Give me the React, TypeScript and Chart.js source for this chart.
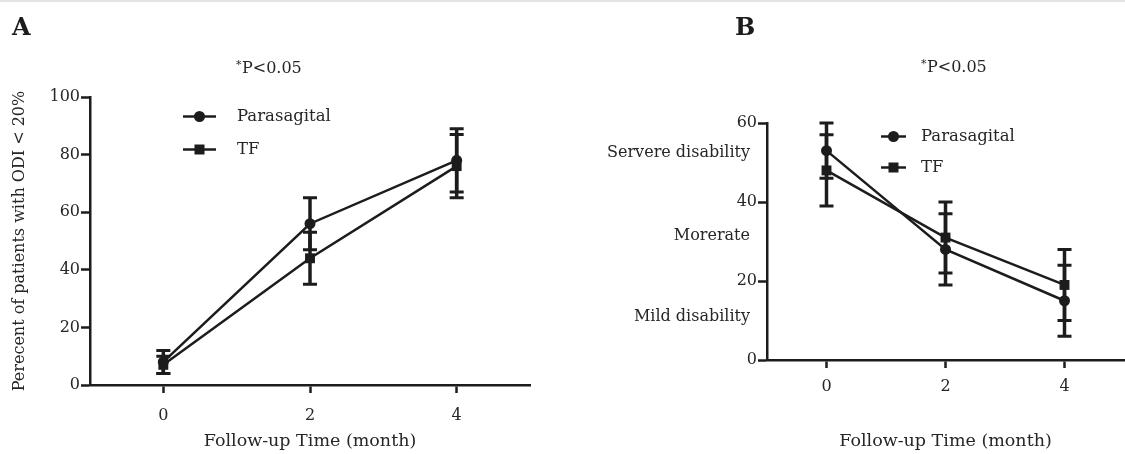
import React, { useEffect, useRef } from "react";
import { Chart, registerables } from "chart.js";

Chart.register(...registerables);

// ---------- data ----------
const months = [0, 2, 4];
const xTickValues = [0, 2, 4];
const seriesNames = ["Parasagital", "TF"];
const xTitle = "Follow-up Time (month)";
const pValueText = "P<0.05";

// Panel A
const aParasagital = [8, 56, 78];
const aParasagitalSD = [4, 9, 11];
const aTF = [7, 44, 76];
const aTFSD = [3, 9, 11];
const aYTitle = "Perecent of patients with ODI < 20%";

// Panel B
const bParasagital = [53, 28, 15];
const bParasagitalSD = [7, 9, 9];
const bTF = [48, 31, 19];
const bTFSD = [9, 9, 9];
const bLevelLabels = ["Servere disability", "Morerate", "Mild disability"];
const bLevelValues = [52.5, 31.5, 11];

// ---------- style ----------
const FONT = "'DejaVu Serif', 'Liberation Serif', serif";
const INK = "#1c1c1c";
const TEXT = "#262626";

const errorBarPlugin = {
  id: "errorBars",
  afterDatasetsDraw(chart: any) {
    const { ctx } = chart;
    const x = chart.scales.x;
    const y = chart.scales.y;
    ctx.save();
    ctx.strokeStyle = INK;
    chart.data.datasets.forEach((ds: any) => {
      const errs: number[] = ds.errors || [];
      ds.data.forEach((p: any, i: number) => {
        const e = errs[i];
        if (e == null) return;
        const px = x.getPixelForValue(p.x);
        const top = y.getPixelForValue(p.y + e);
        const bot = y.getPixelForValue(p.y - e);
        ctx.lineWidth = 3.5;
        ctx.beginPath();
        ctx.moveTo(px, top);
        ctx.lineTo(px, bot);
        ctx.stroke();
        ctx.lineWidth = 3;
        ctx.beginPath();
        ctx.moveTo(px - 7, top);
        ctx.lineTo(px + 7, top);
        ctx.moveTo(px - 7, bot);
        ctx.lineTo(px + 7, bot);
        ctx.stroke();
      });
    });
    ctx.restore();
  },
};

const decorPlugin = {
  id: "panelDecor",
  afterDraw(chart: any, _args: any, o: any) {
    const ctx = chart.ctx;
    ctx.save();
    ctx.fillStyle = INK;
    ctx.strokeStyle = INK;
    // panel letter
    ctx.font = `bold 24px ${FONT}`;
    ctx.textAlign = "left";
    ctx.textBaseline = "alphabetic";
    ctx.fillText(o.letter, o.letterX, o.letterY);
    // p-value note
    ctx.fillStyle = TEXT;
    ctx.textBaseline = "middle";
    ctx.font = `11px ${FONT}`;
    ctx.fillText("*", o.pX, o.pY - 4);
    ctx.font = `16px ${FONT}`;
    ctx.fillText(pValueText, o.pX + 6, o.pY);
    // legend
    chart.data.datasets.forEach((ds: any, i: number) => {
      const ry = o.legendY[i];
      ctx.fillStyle = INK;
      ctx.lineWidth = 2.5;
      ctx.beginPath();
      ctx.moveTo(o.legendX0, ry);
      ctx.lineTo(o.legendX1, ry);
      ctx.stroke();
      const cx = (o.legendX0 + o.legendX1) / 2;
      ctx.beginPath();
      if (ds.pointStyle === "rect") {
        ctx.rect(cx - 5, ry - 5, 10, 10);
      } else {
        ctx.arc(cx, ry, 5.5, 0, Math.PI * 2);
      }
      ctx.fill();
      ctx.fillStyle = TEXT;
      ctx.font = `16.5px ${FONT}`;
      ctx.textAlign = "left";
      ctx.fillText(ds.label, o.legendTextX, ry);
    });
    // severity labels
    if (o.levels) {
      const y = chart.scales.y;
      ctx.fillStyle = TEXT;
      ctx.textAlign = "right";
      ctx.font = `16px ${FONT}`;
      o.levels.forEach((t: string, i: number) => {
        ctx.fillText(t, o.levelX, y.getPixelForValue(o.levelValues[i]));
      });
    }
    ctx.restore();
  },
};

function makeDataset(label: string, vals: number[], sds: number[], style: string) {
  return {
    label,
    data: months.map((m, i) => ({ x: m, y: vals[i] })),
    errors: sds,
    borderColor: INK,
    backgroundColor: INK,
    borderWidth: 2.5,
    pointStyle: style,
    pointRadius: style === "rect" ? 7 : 5.5,
    pointBorderWidth: 0,
    tension: 0,
    clip: false as any,
  };
}

function makeConfig(p: any): any {
  return {
    type: "line",
    data: {
      datasets: [
        makeDataset(seriesNames[0], p.para, p.paraSD, "circle"),
        makeDataset(seriesNames[1], p.tf, p.tfSD, "rect"),
      ],
    },
    plugins: [errorBarPlugin, decorPlugin],
    options: {
      animation: false,
      responsive: false,
      events: [],
      layout: { padding: p.padding },
      font: { family: FONT },
      scales: {
        x: {
          type: "linear",
          min: -1,
          max: 5,
          afterBuildTicks: (s: any) => {
            s.ticks = xTickValues.map((v) => ({ value: v }));
          },
          afterFit: (s: any) => {
            s.height = p.xHeight;
          },
          grid: {
            display: true,
            drawOnChartArea: false,
            drawTicks: true,
            tickLength: 8,
            tickWidth: 2.5,
            tickColor: INK,
          },
          border: { display: true, color: INK, width: 2.5 },
          ticks: {
            color: TEXT,
            font: { family: FONT, size: 16 },
            padding: p.xTickPad,
            maxRotation: 0,
          },
          title: {
            display: true,
            text: xTitle,
            color: TEXT,
            font: { family: FONT, size: 17.5 },
            padding: { top: 0, bottom: 2 },
          },
        },
        y: {
          type: "linear",
          min: 0,
          max: p.yMax,
          afterFit: (s: any) => {
            s.width = p.yWidth;
          },
          grid: {
            display: true,
            drawOnChartArea: false,
            drawTicks: true,
            tickLength: 9,
            tickWidth: 2.5,
            tickColor: INK,
          },
          border: { display: true, color: INK, width: 2.5 },
          ticks: {
            stepSize: 20,
            color: TEXT,
            font: { family: FONT, size: 16 },
            padding: 1,
          },
          title: {
            display: !!p.yTitle,
            text: p.yTitle || "",
            color: TEXT,
            font: { family: FONT, size: 16 },
            padding: { top: 10, bottom: 0 },
          },
        },
      },
      plugins: {
        legend: { display: false },
        tooltip: { enabled: false },
        panelDecor: p.decor,
      },
    },
  };
}

const panelA = {
  para: aParasagital,
  paraSD: aParasagitalSD,
  tf: aTF,
  tfSD: aTFSD,
  yMax: 100,
  yTitle: aYTitle,
  padding: { top: 97, right: 30, left: 0, bottom: 0 },
  yWidth: 90,
  xHeight: 69,
  xTickPad: 13,
  decor: {
    letter: "A",
    letterX: 12,
    letterY: 35,
    pX: 236,
    pY: 69,
    legendX0: 183,
    legendX1: 216,
    legendTextX: 237,
    legendY: [116.5, 149.5],
  },
};

const panelB = {
  para: bParasagital,
  paraSD: bParasagitalSD,
  tf: bTF,
  tfSD: bTFSD,
  yMax: 60,
  yTitle: "",
  padding: { top: 123, right: 0, left: 0, bottom: 0 },
  yWidth: 207,
  xHeight: 94,
  xTickPad: 9,
  decor: {
    letter: "B",
    letterX: 175,
    letterY: 35,
    pX: 361,
    pY: 68,
    legendX0: 321,
    legendX1: 346,
    legendTextX: 361,
    legendY: [136.5, 167.5],
    levels: bLevelLabels,
    levelValues: bLevelValues,
    levelX: 190,
  },
};

function Panel({ cfg, left, width }: { cfg: any; left: number; width: number }) {
  const ref = useRef<HTMLCanvasElement | null>(null);
  useEffect(() => {
    if (!ref.current) return;
    const chart = new Chart(ref.current, makeConfig(cfg));
    return () => chart.destroy();
  }, [cfg]);
  return (
    <canvas
      ref={ref}
      width={width}
      height={454}
      style={{ position: "absolute", left, top: 0, width, height: 454 }}
    />
  );
}

export default function App() {
  return (
    <div
      style={{
        position: "absolute",
        left: 0,
        top: 0,
        width: 1125,
        height: 454,
        overflow: "hidden",
        background: "#fff",
      }}
    >
      <div style={{ position: "absolute", left: 0, top: 0, width: 1125, height: 2, background: "#e4e4e4" }} />
      <Panel cfg={panelA} left={0} width={560} />
      <Panel cfg={panelB} left={560} width={571} />
    </div>
  );
}
